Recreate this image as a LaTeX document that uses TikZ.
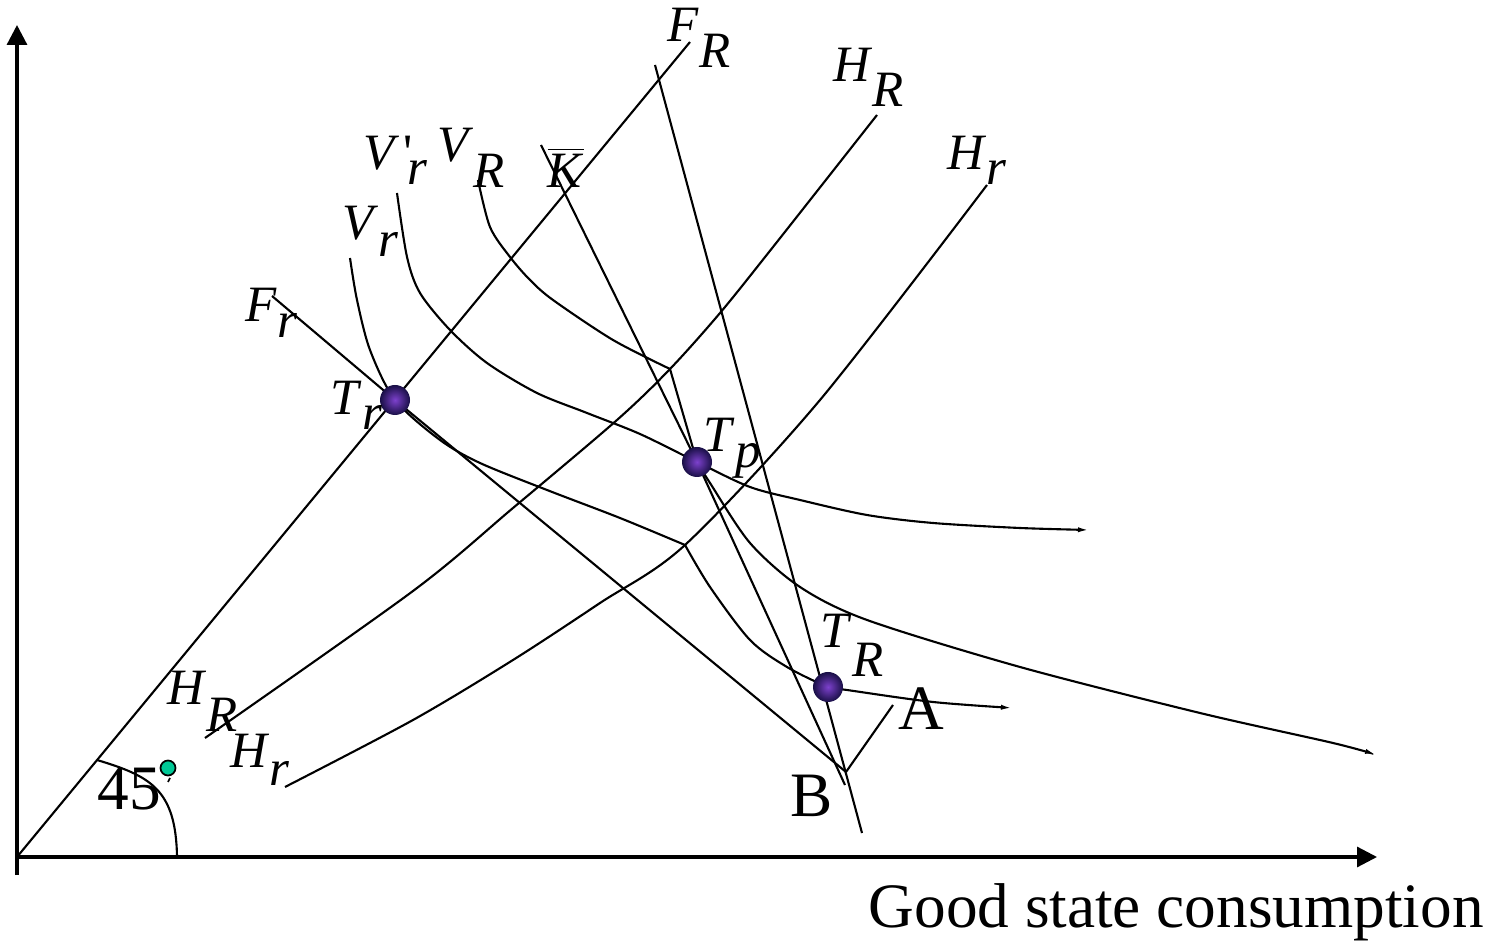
\documentclass[tikz,border=0pt]{standalone}
\usepackage{fontspec}
\setmainfont{Liberation Serif}
\usepackage{tikz}
\usetikzlibrary{arrows.meta}
\definecolor{dotDark}{RGB}{25,15,70}
\definecolor{dotLight}{RGB}{125,65,205}
\definecolor{figG}{RGB}{0,200,150}
\newcommand{\sublbl}[3]{\textit{#1}\raisebox{-#3}{\textit{#2}}}
\tikzset{
  axisline/.style={line width=0.9pt, -{Triangle[length=2mm,width=2mm]}},
  crv/.style={line width=0.6pt},
  crvend/.style={line width=0.6pt, -{Latex[length=1.2mm,width=0.5mm]}},
  lbl/.style={font=\fontsize{14.5}{17}\selectfont, inner sep=0pt, anchor=base west},
  biglbl/.style={font=\fontsize{18}{22}\selectfont, inner sep=0pt, anchor=base west},
  tdot/.style={circle, inner sep=0pt, minimum size=3mm, inner color=dotLight, outer color=dotDark}
}

\begin{document}
\begin{tikzpicture}
\useasboundingbox (0,0) rectangle (15.1,9.44);
% key points
\coordinate (O) at (0.17,0.87);
\coordinate (FRtop) at (6.90,9.02);
\coordinate (Frtop) at (2.72,6.48);
\coordinate (Ktop) at (5.41,7.99);
\coordinate (Kbot) at (8.45,1.59);
\coordinate (Stop) at (6.55,8.79);
\coordinate (Sbot) at (8.62,1.11);
\coordinate (B) at (8.46,1.72);
\coordinate (Atop) at (8.93,2.39);
\coordinate (Tr) at (3.95,5.44);
\coordinate (Tp) at (6.97,4.82);
\coordinate (TR) at (8.28,2.57);
\coordinate (kinkR) at (6.70,5.75);
\coordinate (kinkr) at (6.85,3.99);

% axes
\draw[axisline] (0.17,0.69) -- (0.17,9.19);
\draw[axisline] (O) -- (13.77,0.87);

% straight lines
\draw[crv] (O) -- (FRtop);
\draw[crv] (Frtop) -- (Tr) -- (B);
\draw[crv] (Ktop) -- (Tp) -- (Kbot);
\draw[crv] (Stop) -- (Sbot);
\draw[crv] (B) -- (Atop);

% H curves
\draw[crv] plot[smooth] coordinates {(2.05,2.06) (4.13,3.53) (5.13,4.36) (6.17,5.24) (kinkR) (7.20,6.31) (7.73,6.97) (8.77,8.29)};
\draw[crv] plot[smooth] coordinates {(2.85,1.57) (4.13,2.24) (5.13,2.84) (6.00,3.41) (kinkr) (8.20,5.44) (9.87,7.59)};

% V_r (kinked)
\draw[crv] plot[smooth] coordinates {(3.50,6.86) (3.57,6.44) (3.70,5.94) (Tr) (4.40,5.04) (4.80,4.81) (5.47,4.54) (6.20,4.26) (kinkr)};
\draw[crvend] plot[smooth] coordinates {(kinkr) (7.10,3.57) (7.50,3.04) (7.87,2.77) (TR) (8.47,2.54) (9.33,2.42) (10.13,2.36)};

% V'_r
\draw[crvend] plot[smooth] coordinates {(3.97,7.51) (4.07,6.87) (4.20,6.51) (4.50,6.14) (4.87,5.81) (5.37,5.51) (5.87,5.31) (6.40,5.10) (Tp) (7.50,4.57) (8.00,4.44) (8.67,4.29) (9.33,4.21) (10.20,4.16) (10.90,4.14)};

% V_R (kinked)
\draw[crv] plot[smooth] coordinates {(4.78,7.64) (4.90,7.17) (5.10,6.87) (5.30,6.64) (5.53,6.44) (6.13,6.04) (kinkR)};
\draw[crv] (kinkR) -- (Tp);
\draw[crvend] plot[smooth] coordinates {(Tp) (7.10,4.61) (7.50,4.01) (8.00,3.57) (8.67,3.24) (10.20,2.77) (12.00,2.31) (13.33,2.01) (13.77,1.89)};

% 45 degree mark
\draw[crv] (0.97,1.84) .. controls (1.50,1.68) and (1.76,1.55) .. (1.77,0.87);
\draw[line width=0.5pt, fill=figG] (1.68,1.76) circle (0.075);
\draw[line width=0.5pt] (1.70,1.66) -- (1.68,1.62);

% points
\node[tdot] (Trdot) at (Tr) {};
\node[tdot] (Tpdot) at (Tp) {};
\node[tdot] (TRdot) at (TR) {};

% labels
\node[lbl] (FRlab) at (6.67,9.02) {\sublbl{F}{R}{2.6mm}};
\node[lbl] (HRtoplab) at (8.33,8.62) {\sublbl{H}{R}{2.5mm}};
\node[lbl] (Hrtoplab) at (9.47,7.74) {\sublbl{H}{r}{1.5mm}};
\node[lbl] (Vprlab) at (3.63,7.74) {\textit{V}\kern0.08em\textquotesingle\kern-0.1em\raisebox{-1.5mm}{\textit{r}}};
\node[lbl] (VRlab) at (4.37,7.82) {\sublbl{V}{R}{2.6mm}};
\node[lbl] (Klab) at (5.47,7.56) {$\overline{\hbox{\textit{K}}}$};
\node[lbl] (Vrlab) at (3.42,7.04) {\sublbl{V}{r}{1.7mm}};
\node[lbl] (Frlab) at (2.45,6.22) {\sublbl{F}{r}{1.6mm}};
\node[lbl] (Trlab) at (3.30,5.29) {\sublbl{T}{r}{1.5mm}};
\node[lbl] (Tplab) at (7.03,4.92) {\sublbl{T}{p}{1.6mm}};
\node[lbl] (TRlab) at (8.20,2.96) {\sublbl{T}{R}{2.9mm}};
\node[lbl] (HRlab) at (1.67,2.39) {\sublbl{H}{R}{2.7mm}};
\node[lbl] (Hrlab) at (2.30,1.76) {\sublbl{H}{r}{1.7mm}};
\node[biglbl] (Alab) at (8.98,2.14) {A};
\node[biglbl] (Blab) at (7.90,1.27) {B};
\node[biglbl] (anglab) at (0.97,1.34) {45};
\node[biglbl] (xlab) at (8.68,0.16) {Good state consumption};
\end{tikzpicture}
\end{document}
